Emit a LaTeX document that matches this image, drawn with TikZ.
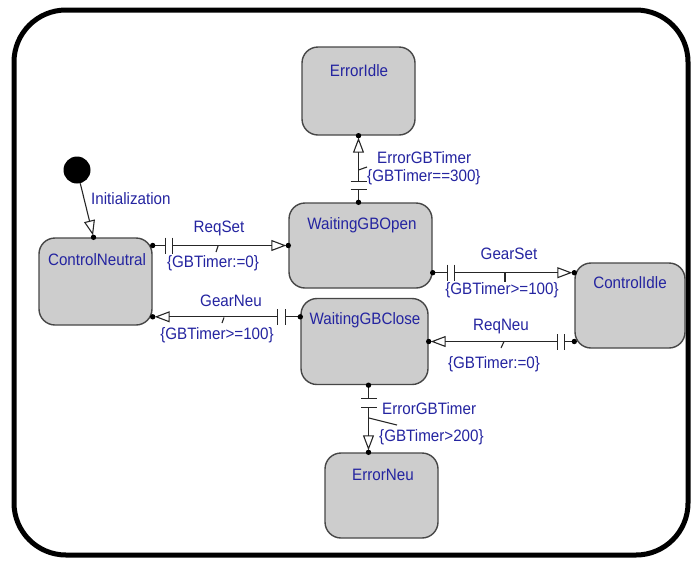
\documentclass[tikz,border=0pt]{standalone}
\usepackage{fontspec}
\setmainfont{Liberation Sans}[FakeStretch=0.92]
\usetikzlibrary{arrows.meta,calc}
\definecolor{lbl}{RGB}{36,36,160}
\definecolor{boxfill}{RGB}{205,205,205}
\definecolor{boxline}{RGB}{70,70,70}
\newcommand\mytrans[4]{%
  \draw[conn] (#1) -- ($(#1)!#3!(#2)$);
  \draw[conn] ($(#1)!#3!(#2)!8pt!90:(#2)$) -- ($(#1)!#3!(#2)!8pt!-90:(#2)$);
  \draw[conn] ($(#1)!#4!(#2)!8pt!90:(#2)$) -- ($(#1)!#4!(#2)!8pt!-90:(#2)$);
  \draw[conn,-{Triangle[open,length=15pt,width=11pt]},shorten >=2pt] ($(#1)!#4!(#2)$) -- (#2);
  \fill (#1) circle (2.7pt);
  \fill (#2) circle (2.7pt);}
\begin{document}
\begin{tikzpicture}[x=1pt,y=-1pt,
  state/.style={draw=boxline,line width=1.4pt,fill=boxfill,rounded corners=16pt,inner sep=0pt},
  txt/.style={text=lbl,font=\fontsize{16.5}{19}\selectfont,inner sep=0pt,text height=12pt,text depth=3pt},
  conn/.style={draw=black!85,line width=1.1pt}]
\useasboundingbox (0,0) rectangle (692,560);
\draw[line width=5pt,rounded corners=52pt] (14,10) rectangle (688,555);

% states
\node[state,minimum width=113pt,minimum height=87pt] (cn) at (95.5,281.5) {};
\node[txt] (cnT) at (97,261) {ControlNeutral};
\node[state,minimum width=113pt,minimum height=88pt] (ei) at (358.5,91) {};
\node[txt] (eiT) at (359,72) {ErrorIdle};
\node[state,minimum width=143pt,minimum height=85pt] (wo) at (360.5,245.5) {};
\node[txt] (woT) at (362,225) {WaitingGBOpen};
\node[state,minimum width=127pt,minimum height=86pt] (wc) at (364.5,341.5) {};
\node[txt] (wcT) at (365,320) {WaitingGBClose};
\node[state,minimum width=110pt,minimum height=85pt] (ci) at (630,305.5) {};
\node[txt] (ciT) at (630,284) {ControlIdle};
\node[state,minimum width=113pt,minimum height=85pt] (en) at (381.5,495.5) {};
\node[txt] (enT) at (383,476) {ErrorNeu};
\node[circle,fill=black,minimum size=27pt,inner sep=0pt] (init) at (77,170) {};

% connector end points
\coordinate (inT) at ($(cn.north)+(-2,0)$);
\coordinate (rsS) at (cn.east |- wo.west);
\coordinate (gsS) at ($(wo.south east)+(0,-16)$);
\coordinate (gsT) at (ci.west |- gsS);
\coordinate (gnS) at ($(wc.north west)+(0,19)$);
\coordinate (gnT) at (cn.east |- gnS);
\coordinate (rnS) at (ci.west |- wc.east);
\coordinate (egS) at (ei.south |- wo.north);
\coordinate (enS) at ($(wc.south)+(4,0)$);
\coordinate (enE) at (en.north -| enS);

% initial transition
\draw[conn,-{Triangle[open,length=15pt,width=11pt]},shorten >=2pt] (init) -- (inT);
\fill (inT) circle (2.7pt);
\node[txt,anchor=west] (lInit) at (91,200) {Initialization};

% ReqSet
\mytrans{rsS}{wo.west}{13pt}{20pt}
\draw[conn] (218,246) -- (216,252);
\node[txt] (lRS1) at (219,228) {ReqSet};
\node[txt] (lRS2) at (213,263) {\{GBTimer:=0\}};

% GearSet
\mytrans{gsS}{gsT}{15pt}{22pt}
\draw[conn] (505,272) -- (505,282);
\node[txt] (lGS1) at (509,255) {GearSet};
\node[txt] (lGS2) at (502,290) {\{GBTimer>=100\}};

% GearNeu
\mytrans{gnS}{gnT}{15pt}{23pt}
\draw[conn] (224,317.5) -- (222,323);
\node[txt] (lGN1) at (231,302) {GearNeu};
\node[txt] (lGN2) at (217,335) {\{GBTimer>=100\}};

% ReqNeu
\mytrans{rnS}{wc.east}{10pt}{17pt}
\draw[conn] (504,341.5) -- (501,348);
\node[txt] (lRN1) at (501,326) {ReqNeu};
\node[txt] (lRN2) at (494,364) {\{GBTimer:=0\}};

% ErrorGBTimer up
\mytrans{egS}{ei.south}{13pt}{21pt}
\draw[conn] (358.5,170) -- (367,167);
\node[txt,anchor=west] (lEI1) at (377,159) {ErrorGBTimer};
\node[txt,anchor=west] (lEI2) at (367,177) {\{GBTimer==300\}};

% ErrorGBTimer down
\mytrans{enS}{enE}{13pt}{22pt}
\draw[conn] (369,418) -- (397,425);
\node[txt,anchor=west] (lEN1) at (382,410) {ErrorGBTimer};
\node[txt,anchor=west] (lEN2) at (379,437) {\{GBTimer>200\}};
\end{tikzpicture}
\end{document}
